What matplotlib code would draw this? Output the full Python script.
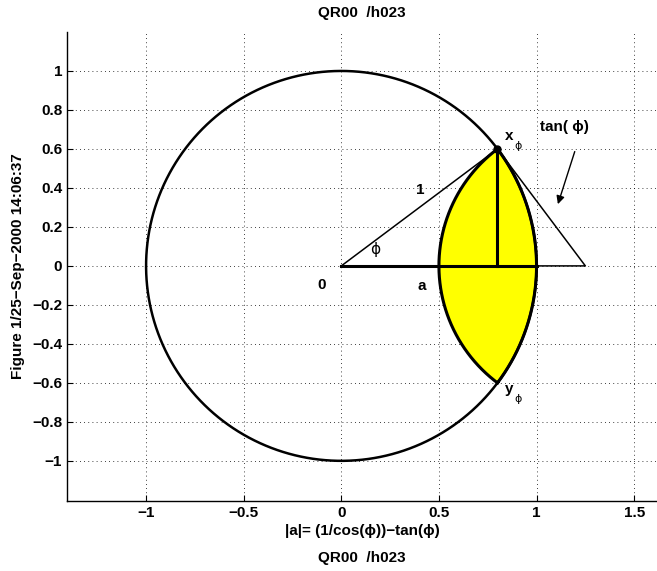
import numpy as np
import matplotlib
matplotlib.use("Agg")
import matplotlib.pyplot as plt

plt.rcParams["font.family"] = ["Liberation Sans", "DejaVu Sans"]

# geometry
x_phi = (0.8, 0.6)            # point on the unit circle
y_phi = (0.8, -0.6)
sec_phi = 1.25                # 1/cos(phi), triangle apex on the x axis
tan_phi = 0.75
xticks = [-1, -0.5, 0, 0.5, 1, 1.5]
xticklabels = ["\u22121", "\u22120.5", "0", "0.5", "1", "1.5"]
yticks = [-1, -0.8, -0.6, -0.4, -0.2, 0, 0.2, 0.4, 0.6, 0.8, 1]
yticklabels = ["\u22121", "\u22120.8", "\u22120.6", "\u22120.4", "\u22120.2", "0",
               "0.2", "0.4", "0.6", "0.8", "1"]

fig = plt.figure(figsize=(6.57, 5.71), dpi=100)
ax = fig.add_axes([0.102, 0.1226, 0.898, 0.8214])

# yellow lens: unit-circle arc on the right, arc around (sec_phi, 0) on the left
ang_r = np.arctan2(x_phi[1], x_phi[0])
ang_l = np.arctan2(x_phi[1], x_phi[0] - sec_phi)
t_right = np.linspace(-ang_r, ang_r, 200)
t_left = np.linspace(ang_l, 2 * np.pi - ang_l, 200)
lens_x = np.concatenate([np.cos(t_right), sec_phi + tan_phi * np.cos(t_left)])
lens_y = np.concatenate([np.sin(t_right), tan_phi * np.sin(t_left)])
ax.fill(lens_x, lens_y, color="yellow", zorder=2)
ax.plot(np.append(lens_x, lens_x[0]), np.append(lens_y, lens_y[0]), color="black", lw=2.2, zorder=3)

# unit circle
t = np.linspace(0, 2 * np.pi, 400)
ax.plot(np.cos(t), np.sin(t), color="black", lw=1.8, zorder=3)

# triangle
ax.plot([0, x_phi[0], sec_phi, 0], [0, x_phi[1], 0, 0], color="black", lw=1.1, zorder=4)
ax.plot([0, 1], [0, 0], color="black", lw=2.2, zorder=4)
ax.plot([x_phi[0], x_phi[0]], [0, x_phi[1]], color="black", lw=2.2, zorder=4)
ax.plot([x_phi[0]], [x_phi[1]], "o", color="black", ms=5, zorder=5)

# labels inside the plot
bold = dict(fontsize=11, fontweight="bold", zorder=6)
ax.text(-0.1, -0.1, "0", ha="center", va="center", **bold)
ax.text(0.41, -0.105, "a", ha="center", va="center", **bold)
ax.text(0.405, 0.39, "1", ha="center", va="center", **bold)
ax.text(0.175, 0.085, "\u03d5", ha="center", va="center", fontsize=11, family="DejaVu Sans")
ax.text(0.84, 0.648, "x", ha="left", va="baseline", **bold)
ax.text(0.885, 0.6, "\u03d5", ha="left", va="baseline", fontsize=8, family="DejaVu Sans")
ax.text(0.84, -0.65, "y", ha="left", va="baseline", **bold)
ax.text(0.885, -0.7, "\u03d5", ha="left", va="baseline", fontsize=8, family="DejaVu Sans")
ax.text(1.02, 0.694, "tan( \u03d5)", ha="left", va="baseline", **bold)
ax.annotate("", xy=(1.105, 0.303), xytext=(1.2, 0.6),
            arrowprops=dict(arrowstyle="-|>", color="black", lw=1.0, mutation_scale=12))

ax.set_xlim(-1.405, 1.617)
ax.set_ylim(-1.206, 1.2)
ax.set_xticks(xticks)
ax.set_xticklabels(xticklabels)
ax.set_yticks(yticks)
ax.set_yticklabels(yticklabels)
ax.tick_params(direction="in", length=4, labelsize=11, width=0.8)
for lab in ax.get_xticklabels() + ax.get_yticklabels():
    lab.set_fontweight("bold")
ax.grid(True, linestyle=(0, (1, 4)), color="black", lw=0.6)
ax.set_axisbelow(True)
for s in ["top", "right"]:
    ax.spines[s].set_visible(False)
ax.spines["left"].set_linewidth(1.0)
ax.spines["bottom"].set_linewidth(1.0)

ax.set_title("QR00  /h023", fontsize=11, fontweight="bold", pad=11)
ax.set_xlabel("|a|= (1/cos(\u03d5))\u2212tan(\u03d5)", fontsize=11, fontweight="bold", labelpad=3)
ax.set_ylabel("Figure 1/25\u2212Sep\u22122000 14:06:37", fontsize=11, fontweight="bold", labelpad=5)
fig.text(0.551, 0.023, "QR00  /h023", ha="center", va="center", fontsize=11, fontweight="bold")

fig.savefig("out.png", dpi=100, facecolor="white")
